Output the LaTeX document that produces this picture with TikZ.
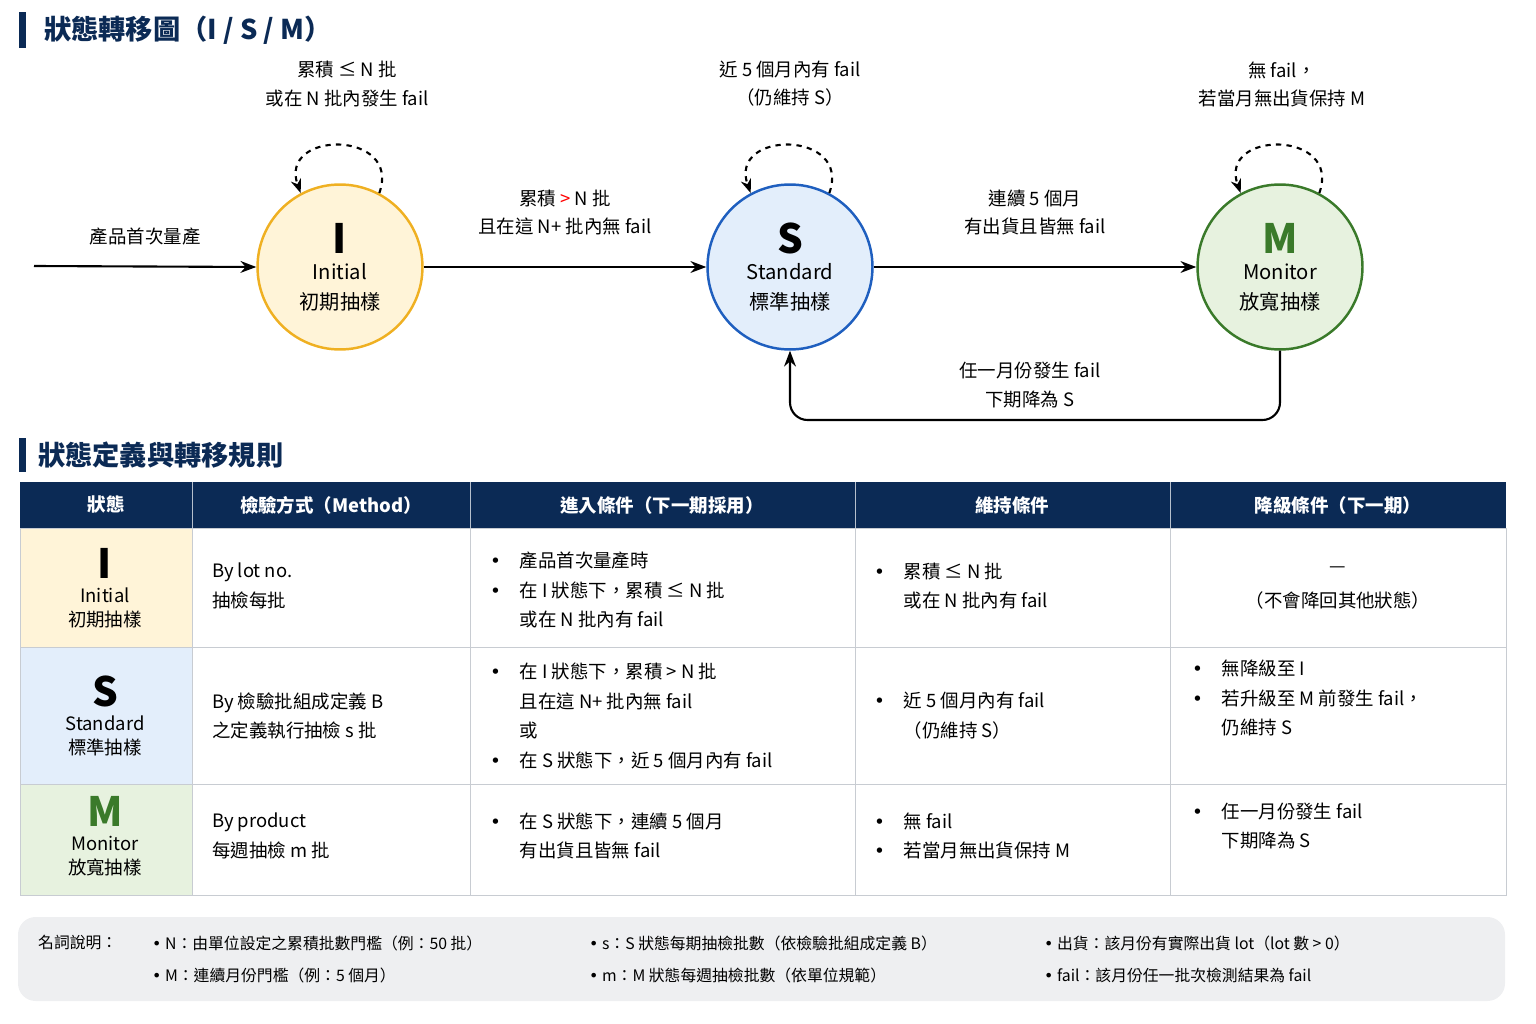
\documentclass[tikz,border=0pt]{standalone}
\usepackage{fontspec}
\setmainfont{Noto Sans CJK TC}
\newfontfamily\djfont{DejaVu Sans}
\usetikzlibrary{arrows.meta,positioning}
\definecolor{navy}{HTML}{0B2A55}
\definecolor{ifill}{HTML}{FFF4D8}
\definecolor{iline}{HTML}{EFB022}
\definecolor{sfill}{HTML}{E3EEFB}
\definecolor{sline}{HTML}{1F5FBF}
\definecolor{mfill}{HTML}{E7F2DF}
\definecolor{mline}{HTML}{3A7A2A}
\definecolor{grid}{HTML}{C8CCD2}
\definecolor{legbg}{HTML}{EEEFF1}
\tikzset{
  state/.style={circle,minimum size=3.3cm,line width=1.4pt,align=center,font=\fontsize{11.5}{17}\selectfont},
  edge/.style={-{Stealth[length=9pt]},line width=1.2pt},
  loopedge/.style={-{Stealth[length=8pt]},line width=1.2pt,dashed,looseness=2.2},
  lbl/.style={align=center,font=\fontsize{10.5}{16}\selectfont},
  head/.style={text=white,font=\bfseries\fontsize{10.5}{13}\selectfont},
  cell/.style={anchor=west,align=left,font=\fontsize{10.5}{17}\selectfont},
  tagtxt/.style={align=center,font=\fontsize{10.5}{13.5}\selectfont},
  title/.style={anchor=west,text=navy,font=\bfseries\fontsize{15.5}{18}\selectfont}
}
\newcommand{\bigletter}[2]{{\color{#1}\bfseries\fontsize{23}{25}\selectfont #2}}
\newcommand{\bul}{\makebox[1.6em][l]{\djfont •}}
\newcommand{\ind}{\hspace*{1.6em}}
\begin{document}
\begin{tikzpicture}[x=0.02cm,y=-0.02cm]
  \useasboundingbox (0,0) rectangle (1536,1024);
  % title
  \fill[navy] (19,12) rectangle (26,48);
  \node[title] (t1) at (38,30) {狀態轉移圖（I / S / M）};
  % states
  \node[state,fill=ifill,draw=iline] (I) at (340,267) {\bigletter{black}{I}\\[-2pt] Initial\\ 初期抽樣};
  \node[state,fill=sfill,draw=sline] (S) at (790,267) {\bigletter{black}{S}\\[-2pt] Standard\\ 標準抽樣};
  \node[state,fill=mfill,draw=mline] (M) at (1280,267) {\bigletter{mline}{M}\\[-2pt] Monitor\\ 放寬抽樣};
  \coordinate (start) at (34,266);
  \draw[edge] (start) -- (I.west) node[lbl,midway,above=8pt] {產品首次量產};
  \draw[edge] (I.east) -- (S.west) node[lbl,midway,above=14pt] {累積 {\color{red}>} N 批\\且在這 N+ 批內無 fail};
  \draw[edge] (S.east) -- (M.west) node[lbl,midway,above=14pt] {連續 5 個月\\有出貨且皆無 fail};
  \coordinate (bend) at (1030,420);
  \draw[edge,rounded corners=10pt] (M.south) |- (bend) -| (S.south);
  \node[lbl] (lback) at (1030,385) {任一月份發生 fail\\下期降為 S};
  % self loops
  \draw[loopedge] (I.62) to[out=70,in=110] (I.118);
  \draw[loopedge] (S.62) to[out=70,in=110] (S.118);
  \draw[loopedge] (M.62) to[out=70,in=110] (M.118);
  \node[lbl] (lI) at (347,84) {累積 ≤ N 批\\或在 N 批內發生 fail};
  \node[lbl] (lS) at (790,84) {近 5 個月內有 fail\\（仍維持 S）};
  \node[lbl] (lM) at (1282,84) {無 fail，\\若當月無出貨保持 M};
  % section title
  \fill[navy] (19,438) rectangle (26,472);
  \node[title] (t2) at (32,455) {狀態定義與轉移規則};
  % table
  \fill[navy] (20,482) rectangle (1506,528);
  \fill[ifill] (20,528) rectangle (192,647);
  \fill[sfill] (20,647) rectangle (192,784);
  \fill[mfill] (20,784) rectangle (192,895);
  \draw[grid] (20,528) rectangle (1506,895);
  \foreach \y in {647,784} \draw[grid] (20,\y) -- (1506,\y);
  \foreach \x in {192,470,855,1170} {
    \draw[grid] (\x,528) -- (\x,895);
    \draw[white!70!navy] (\x,482) -- (\x,528);
  }
  \node[head] (h1) at (106,505) {狀態};
  \node[head] (h2) at (331,505) {檢驗方式（Method）};
  \node[head] (h3) at (662,505) {進入條件（下一期採用）};
  \node[head] (h4) at (1012,505) {維持條件};
  \node[head] (h5) at (1338,505) {降級條件（下一期）};
  % row I
  \node[tagtxt] (cI) at (105,588) {\bigletter{black}{I}\\ Initial\\ 初期抽樣};
  \node[cell] (mI) at (206,586) {By lot no.\\抽檢每批};
  \node[cell] (eI) at (484,590) {\bul 產品首次量產時\\\bul 在 I 狀態下，累積 ≤ N 批\\\ind 或在 N 批內有 fail};
  \node[cell] (kI) at (868,586) {\bul 累積 ≤ N 批\\\ind 或在 N 批內有 fail};
  \node[tagtxt] (dI) at (1338,588) {—\\[6pt]（不會降回其他狀態）};
  % row S
  \node[tagtxt] (cS) at (105,716) {\bigletter{black}{S}\\ Standard\\ 標準抽樣};
  \node[cell] (mS) at (206,716) {By 檢驗批組成定義 B\\之定義執行抽檢 s 批};
  \node[cell] (eS) at (484,716) {\bul 在 I 狀態下，累積 > N 批\\\ind 且在這 N+ 批內無 fail\\\ind 或\\\bul 在 S 狀態下，近 5 個月內有 fail};
  \node[cell] (kS) at (868,716) {\bul 近 5 個月內有 fail\\\ind （仍維持 S）};
  \node[cell] (dS) at (1186,698) {\bul 無降級至 I\\\bul 若升級至 M 前發生 fail，\\\ind 仍維持 S};
  % row M
  \node[tagtxt] (cM) at (105,836) {\bigletter{mline}{M}\\ Monitor\\ 放寬抽樣};
  \node[cell] (mM) at (206,836) {By product\\每週抽檢 m 批};
  \node[cell] (eM) at (484,836) {\bul 在 S 狀態下，連續 5 個月\\\ind 有出貨且皆無 fail};
  \node[cell] (kM) at (868,836) {\bul 無 fail\\\bul 若當月無出貨保持 M};
  \node[cell] (dM) at (1186,826) {\bul 任一月份發生 fail\\\ind 下期降為 S};
  % legend
  \fill[legbg,rounded corners=10pt] (18,917) rectangle (1505,1001);
  \begin{scope}[every node/.style={anchor=west,font=\fontsize{9}{11}\selectfont}]
    \node (g0) at (32,943) {名詞說明：};
    \node (g1) at (146,943) {{\djfont •} N：由單位設定之累積批數門檻（例：50 批）};
    \node (g2) at (146,975) {{\djfont •} M：連續月份門檻（例：5 個月）};
    \node (g3) at (583,943) {{\djfont •} s：S 狀態每期抽檢批數（依檢驗批組成定義 B）};
    \node (g4) at (583,975) {{\djfont •} m：M 狀態每週抽檢批數（依單位規範）};
    \node (g5) at (1038,943) {{\djfont •} 出貨：該月份有實際出貨 lot（lot 數 > 0）};
    \node (g6) at (1038,975) {{\djfont •} fail：該月份任一批次檢測結果為 fail};
  \end{scope}
\end{tikzpicture}
\end{document}
